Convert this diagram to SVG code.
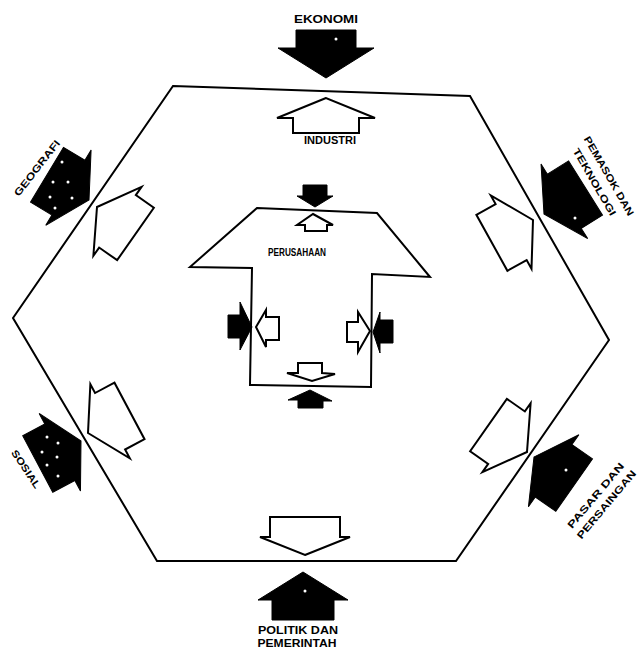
<svg xmlns="http://www.w3.org/2000/svg" width="639" height="660" viewBox="0 0 639 660">
<style>
.edge{fill:none;stroke:#000;stroke-width:2;stroke-linejoin:miter}
.blk{fill:#000;stroke:#000;stroke-width:1;stroke-linejoin:miter}
.wht{fill:#fff;stroke:#000;stroke-width:2;stroke-linejoin:miter}
.dot{fill:#fff}
.lbl{font-family:"Liberation Sans",Arial,sans-serif;font-weight:bold;fill:#000;font-size:10px;text-anchor:middle}
</style>
<defs>
<polygon id="bSide" points="0,0 -24,-44 -24,-32 -49,-32 -49,32 -24,32 -24,44"/>
<polygon id="wSide" points="0,0 -25,-42 -25,-32 -47,-32 -47,32 -25,32 -25,42"/>
</defs>
<rect width="639" height="660" fill="#fff"/>

<g id="hexagon">
<polygon class="edge" points="173,86 470,96 609,340 456,561 157,561 13,318"/>
</g>

<g id="perusahaan">
<polygon class="edge" points="257,208 377,213 430,277 372,274 371,387 250,385 252,268 190,267"/>
<text class="lbl" x="297" y="256" font-size="10" textLength="58" lengthAdjust="spacingAndGlyphs">PERUSAHAAN</text>
</g>

<g id="ekonomi">
<polygon class="blk" transform="translate(326,78) rotate(90)" points="0,0 -30,-48 -30,-30 -48,-30 -48,30 -30,30 -30,48"/>
<circle class="dot" cx="336" cy="39" r="1.5"/>
<text class="lbl" x="326" y="23" font-size="11" textLength="64" lengthAdjust="spacingAndGlyphs">EKONOMI</text>
</g>

<g id="industri">
<polygon class="wht" transform="translate(326,98) rotate(-90)" points="0,0 -20,-49 -20,-33 -35,-33 -35,33 -20,33 -20,49"/>
<text class="lbl" x="330" y="144" font-size="9" textLength="52" lengthAdjust="spacingAndGlyphs">INDUSTRI</text>
</g>

<g id="politik">
<polygon class="blk" transform="translate(303,572) rotate(-90)" points="0,0 -28,-45 -28,-31 -48,-31 -48,31 -28,31 -28,45"/>
<circle class="dot" cx="305" cy="591" r="1.5"/>
<text class="lbl" x="298" y="634" font-size="11" textLength="80" lengthAdjust="spacingAndGlyphs">POLITIK DAN</text>
<text class="lbl" x="297" y="647" font-size="11" textLength="79" lengthAdjust="spacingAndGlyphs">PEMERINTAH</text>
</g>

<g id="politik-out">
<polygon class="wht" transform="translate(305,555) rotate(90)" points="0,0 -18,-45 -18,-35 -38,-35 -38,35 -18,35 -18,45"/>
</g>

<g id="geografi">
<use href="#bSide" class="blk" transform="translate(89,200) rotate(31)"/>
<circle class="dot" cx="62" cy="162" r="1.5"/>
<circle class="dot" cx="53" cy="182" r="1.5"/>
<circle class="dot" cx="68" cy="182" r="1.5"/>
<circle class="dot" cx="50" cy="197" r="1.5"/>
<circle class="dot" cx="72" cy="198" r="1.5"/>
<circle class="dot" cx="55" cy="208" r="1.5"/>
<text class="lbl" transform="translate(37,168) rotate(-52)" x="0" y="3.5" textLength="68" lengthAdjust="spacingAndGlyphs">GEOGRAFI</text>
</g>

<g id="geografi-out">
<use href="#wSide" class="wht" transform="translate(97,207) rotate(-145)"/>
</g>

<g id="sosial">
<use href="#bSide" class="blk" transform="translate(81,441) rotate(-28)"/>
<circle class="dot" cx="47" cy="437" r="1.5"/>
<circle class="dot" cx="58" cy="443" r="1.5"/>
<circle class="dot" cx="42" cy="452" r="1.5"/>
<circle class="dot" cx="57" cy="457" r="1.5"/>
<circle class="dot" cx="47" cy="465" r="1.5"/>
<circle class="dot" cx="58" cy="476" r="1.5"/>
<text class="lbl" transform="translate(26,469) rotate(56)" x="0" y="3.5" textLength="44" lengthAdjust="spacingAndGlyphs">SOSIAL</text>
</g>

<g id="sosial-out">
<use href="#wSide" class="wht" transform="translate(88,433) rotate(152)"/>
</g>

<g id="pemasok">
<use href="#bSide" class="blk" transform="translate(544,214) rotate(148)"/>
<circle class="dot" cx="575" cy="218" r="1.5"/>
<g transform="translate(602,180) rotate(60)">
<text class="lbl" x="0" y="-4.5" textLength="90" lengthAdjust="spacingAndGlyphs">PEMASOK DAN</text>
<text class="lbl" x="-2" y="11" textLength="76" lengthAdjust="spacingAndGlyphs">TEKNOLOGI</text>
</g>
</g>

<g id="pemasok-out">
<use href="#wSide" class="wht" transform="translate(533,220) rotate(-29)"/>
</g>

<g id="pasar">
<use href="#bSide" class="blk" transform="translate(534,457) rotate(-145)"/>
<circle class="dot" cx="566" cy="470" r="1.5"/>
<g transform="translate(601,500) rotate(-50)">
<text class="lbl" x="0" y="-3.5" textLength="82" lengthAdjust="spacingAndGlyphs">PASAR DAN</text>
<text class="lbl" x="0" y="10.5" textLength="86" lengthAdjust="spacingAndGlyphs">PERSAINGAN</text>
</g>
</g>

<g id="pasar-out">
<use href="#wSide" class="wht" transform="translate(527,452) rotate(35)"/>
</g>

<g id="connectors">
<polygon class="blk" points="303,185 327,185 327,196 333,196 315,207 297,196 303,196"/>
<polygon class="wht" stroke-width="1.5" points="313,214 333,225 327,225 327,231 305,231 305,225 297,225"/>
<polygon class="blk" points="228,315 240,315 240,302 252,327 240,350 240,338 228,338"/>
<polygon class="wht" stroke-width="1.5" points="256,327 266,310 266,317 279,317 279,340 266,340 266,347"/>
<polygon class="wht" stroke-width="1.5" points="347,322 358,322 358,312 370,331 358,352 358,342 347,342"/>
<polygon class="blk" points="373,332 380,312 380,320 393,320 393,343 380,343 380,353"/>
<polygon class="wht" stroke-width="1.5" points="298,363 322,363 322,373 335,374 312,381 287,373 298,373"/>
<polygon class="blk" points="310,390 332,401 323,401 323,408 298,408 298,400 288,400"/>
</g>
</svg>
